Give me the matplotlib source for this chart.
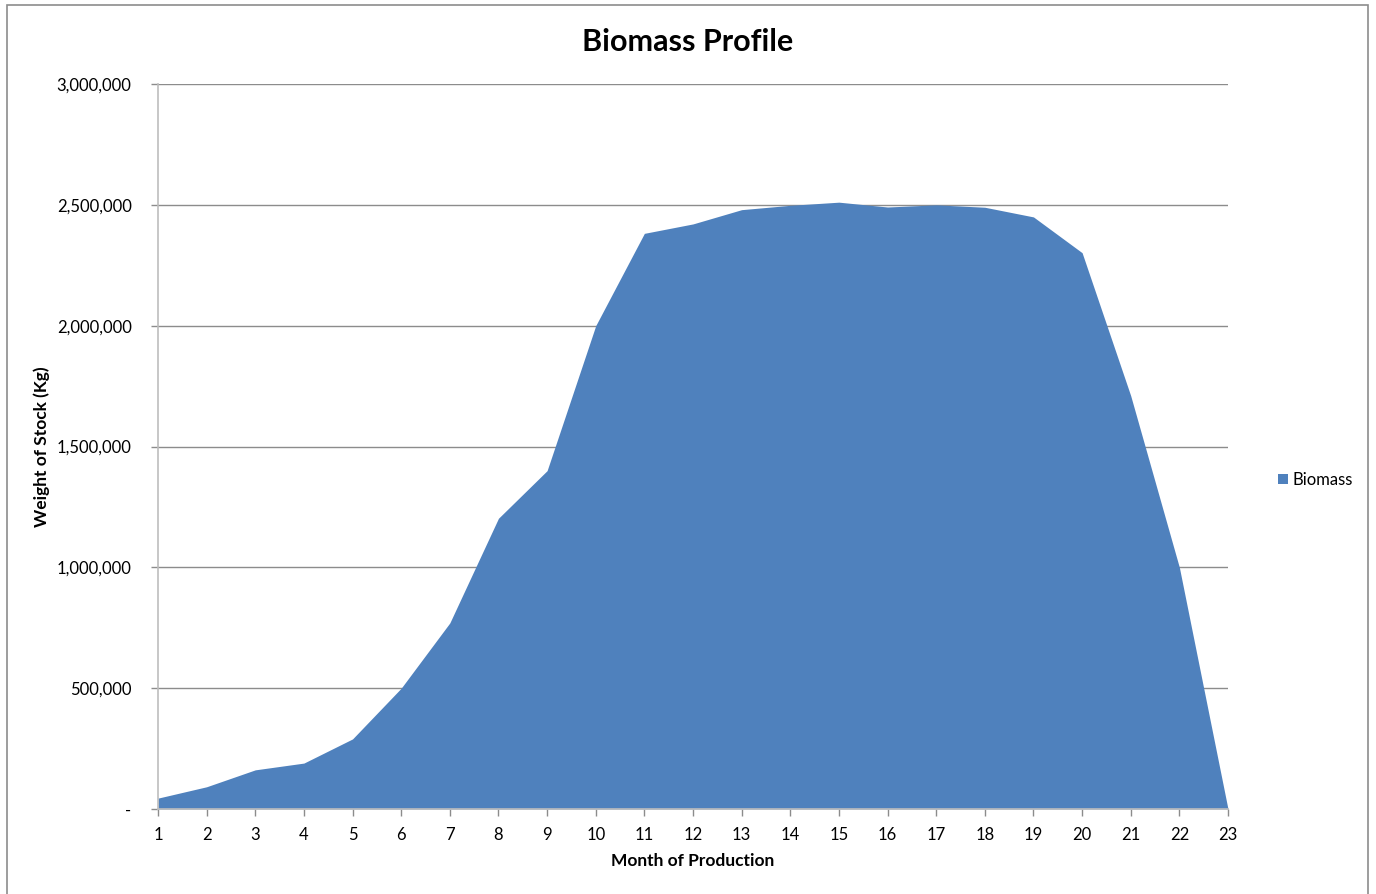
import matplotlib
matplotlib.use("Agg")
import matplotlib.pyplot as plt
from matplotlib.patches import Rectangle, Patch
from matplotlib.ticker import FuncFormatter, MultipleLocator

months = list(range(1, 24))
biomass = [45000, 92000, 162000, 190000, 290000, 500000, 770000, 1203000,
           1400000, 2000000, 2382000, 2421000, 2480000, 2498000, 2511000,
           2491000, 2500000, 2490000, 2450000, 2302000, 1710000, 1000000, 0]

title = "Biomass Profile"
xlabel = "Month of Production"
ylabel = "Weight of Stock (Kg)"
series_name = "Biomass"

plt.rcParams['font.family'] = ['Lato', 'DejaVu Sans']

fig = plt.figure(figsize=(13.76, 8.94), dpi=100)
ax = fig.add_axes([158/1376, 1-809/894, (1228-158)/1376, (809-84)/894])

color = "#4F81BD"
ax.fill_between(months, biomass, 0, color=color, linewidth=0, zorder=3)

ax.set_xlim(1, 23)
ax.set_ylim(0, 3000000)
ax.set_xticks(months)
ax.yaxis.set_major_locator(MultipleLocator(500000))
ax.yaxis.set_major_formatter(FuncFormatter(lambda v, p: "-" if v == 0 else f"{int(v):,}"))
ax.grid(axis='y', color='#8C8C8C', linewidth=1, zorder=1)
ax.set_axisbelow(True)

for s in ['top', 'right']:
    ax.spines[s].set_visible(False)
for s in ['left', 'bottom']:
    ax.spines[s].set_color('#BDBDBD')
    ax.spines[s].set_linewidth(1.2)
    ax.spines[s].set_zorder(4)

ax.tick_params(axis='both', colors='#8C8C8C', labelcolor='black', labelsize=12,
               length=5, width=1)
ax.tick_params(axis='y', pad=14)
ax.tick_params(axis='x', pad=8)

ax.set_xlabel(xlabel, fontsize=12.5, fontweight='bold', labelpad=7)
ax.set_ylabel(ylabel, fontsize=12.5, fontweight='bold', labelpad=5)
fig.text(688/1376, 1-42/894, title, fontsize=22, fontweight='bold', ha='center', va='center')

handle = Patch(facecolor=color, edgecolor='none')
fig.legend([handle], [series_name], loc='center left', bbox_to_anchor=(1263/1376, 1-480/894),
           frameon=False, fontsize=12, handlelength=0.6, handleheight=0.6, handletextpad=0.3)

fig.patches.append(Rectangle((7/1376, -0.01), (1368-7)/1376, 1-5/894 + 0.01,
                             transform=fig.transFigure, fill=False,
                             edgecolor='#8C8C8C', linewidth=1.2))

fig.savefig("out.png", dpi=100)
